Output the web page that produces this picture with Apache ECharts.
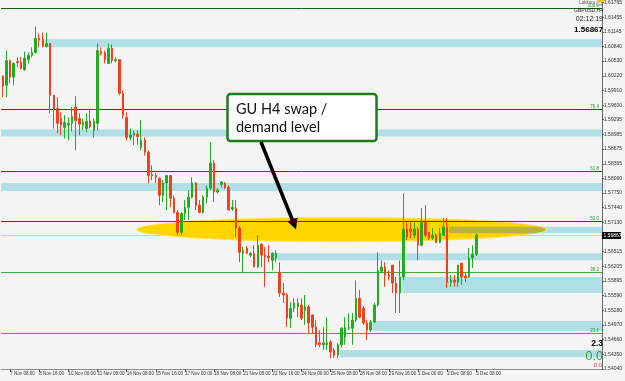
<!DOCTYPE html>
<html><head><meta charset="utf-8">
<script src="https://cdn.jsdelivr.net/npm/echarts@6/dist/echarts.min.js"></script>
<style>html,body{margin:0;padding:0;background:#f4f4f4;}#c{width:625px;height:381px;}</style>
</head><body><div id="c"></div>
<script>
// ---- data (GBPUSD, H4) ----
const xLabels = ["7 Nov 08:00","8 Nov 16:00","10 Nov 00:00","11 Nov 08:00","14 Nov 08:00","15 Nov 16:00","17 Nov 00:00","18 Nov 08:00","21 Nov 08:00","22 Nov 16:00","24 Nov 00:00","25 Nov 08:00","28 Nov 08:00","29 Nov 16:00","1 Dec 00:00","2 Dec 08:00","5 Dec 08:00"];
const firstLabelBar = 2, barsPerLabel = 8, totalSlots = 165;

const opens = [1.6021,1.6002,1.6054,1.6019,1.6052,1.6050,1.6035,1.6056,1.6065,1.6071,1.6101,1.6099,1.6084,1.6090,1.5981,1.5953,1.5932,1.5913,1.5918,1.5922,1.5956,1.5932,1.5918,1.5911,1.5926,1.5907,1.5922,1.6073,1.6071,1.6048,1.6080,1.6054,1.6056,1.5985,1.5934,1.5892,1.5897,1.5899,1.5871,1.5886,1.5861,1.5814,1.5812,1.5806,1.5770,1.5796,1.5812,1.5764,1.5734,1.5692,1.5732,1.5745,1.5766,1.5796,1.5749,1.5734,1.5766,1.5785,1.5838,1.5777,1.5793,1.5796,1.5787,1.5741,1.5743,1.5701,1.5648,1.5659,1.5644,1.5648,1.5619,1.5667,1.5644,1.5642,1.5633,1.5638,1.5608,1.5564,1.5560,1.5511,1.5532,1.5535,1.5539,1.5528,1.5535,1.5518,1.5492,1.5459,1.5455,1.5455,1.5461,1.5444,1.5433,1.5455,1.5471,1.5490,1.5490,1.5507,1.5553,1.5532,1.5501,1.5486,1.5503,1.5539,1.5610,1.5619,1.5602,1.5623,1.5585,1.5564,1.5598,1.5699,1.5699,1.5686,1.5699,1.5665,1.5713,1.5692,1.5680,1.5686,1.5671,1.5686,1.5703,1.5587,1.5591,1.5587,1.5627,1.5600,1.5598,1.5638,1.5646];
const closes = [1.6000,1.6054,1.6019,1.6048,1.6050,1.6038,1.6059,1.6065,1.6071,1.6101,1.6097,1.6084,1.6090,1.5981,1.5953,1.5922,1.5918,1.5924,1.5922,1.5937,1.5928,1.5920,1.5924,1.5926,1.5915,1.5926,1.6075,1.6069,1.6056,1.6080,1.6054,1.6056,1.5985,1.5939,1.5892,1.5897,1.5901,1.5894,1.5886,1.5861,1.5812,1.5812,1.5808,1.5770,1.5796,1.5812,1.5764,1.5734,1.5692,1.5732,1.5745,1.5766,1.5796,1.5749,1.5734,1.5766,1.5785,1.5838,1.5777,1.5781,1.5798,1.5787,1.5739,1.5745,1.5701,1.5650,1.5654,1.5648,1.5648,1.5619,1.5665,1.5644,1.5640,1.5638,1.5648,1.5648,1.5564,1.5560,1.5511,1.5532,1.5543,1.5543,1.5511,1.5535,1.5501,1.5492,1.5455,1.5455,1.5459,1.5459,1.5440,1.5433,1.5455,1.5490,1.5492,1.5492,1.5507,1.5553,1.5513,1.5501,1.5486,1.5503,1.5539,1.5612,1.5619,1.5602,1.5598,1.5585,1.5564,1.5598,1.5699,1.5682,1.5694,1.5699,1.5665,1.5713,1.5686,1.5680,1.5686,1.5671,1.5690,1.5703,1.5587,1.5591,1.5587,1.5623,1.5598,1.5596,1.5638,1.5646,1.56867];
const lows = [1.5977,1.5977,1.6006,1.6002,1.6040,1.6035,1.6033,1.6048,1.6061,1.6069,1.6082,1.6082,1.6082,1.5943,1.5911,1.5901,1.5897,1.5890,1.5886,1.5905,1.5865,1.5897,1.5907,1.5903,1.5911,1.5892,1.5907,1.6065,1.6048,1.6048,1.6048,1.6050,1.5981,1.5932,1.5886,1.5886,1.5876,1.5876,1.5865,1.5854,1.5796,1.5802,1.5796,1.5749,1.5756,1.5739,1.5745,1.5732,1.5686,1.5686,1.5718,1.5718,1.5764,1.5739,1.5732,1.5732,1.5753,1.5781,1.5756,1.5774,1.5787,1.5783,1.5739,1.5737,1.5682,1.5629,1.5608,1.5646,1.5640,1.5619,1.5617,1.5619,1.5577,1.5629,1.5612,1.5629,1.5556,1.5543,1.5492,1.5490,1.5524,1.5513,1.5507,1.5497,1.5480,1.5480,1.5450,1.5450,1.5444,1.5444,1.5427,1.5427,1.5427,1.5450,1.5455,1.5486,1.5455,1.5503,1.5511,1.5497,1.5465,1.5482,1.5501,1.5535,1.5606,1.5577,1.5591,1.5564,1.5522,1.5522,1.5591,1.5676,1.5680,1.5680,1.5633,1.5663,1.5682,1.5676,1.5676,1.5669,1.5669,1.5684,1.5575,1.5577,1.5577,1.5577,1.5581,1.5587,1.5596,1.5617,1.5642];
const highs = [1.6023,1.6075,1.6056,1.6050,1.6061,1.6061,1.6073,1.6071,1.6082,1.6126,1.6111,1.6113,1.6113,1.6090,1.5981,1.5977,1.5945,1.5939,1.5934,1.5956,1.5979,1.5943,1.5932,1.5943,1.5949,1.5932,1.6090,1.6082,1.6075,1.6090,1.6088,1.6061,1.6056,1.5991,1.5945,1.5911,1.5907,1.5907,1.5928,1.5892,1.5865,1.5833,1.5817,1.5808,1.5802,1.5812,1.5812,1.5770,1.5739,1.5734,1.5760,1.5781,1.5808,1.5798,1.5760,1.5770,1.5791,1.5882,1.5844,1.5785,1.5800,1.5798,1.5791,1.5760,1.5760,1.5705,1.5661,1.5663,1.5650,1.5665,1.5686,1.5669,1.5661,1.5665,1.5650,1.5654,1.5629,1.5585,1.5564,1.5545,1.5553,1.5553,1.5553,1.5560,1.5539,1.5518,1.5507,1.5486,1.5492,1.5513,1.5465,1.5448,1.5459,1.5492,1.5513,1.5522,1.5522,1.5591,1.5570,1.5537,1.5507,1.5507,1.5543,1.5650,1.5633,1.5629,1.5612,1.5623,1.5598,1.5633,1.5774,1.5713,1.5713,1.5713,1.5703,1.5743,1.5749,1.5692,1.5701,1.5690,1.5701,1.5722,1.5722,1.5602,1.5602,1.5623,1.5627,1.5608,1.5659,1.5665,1.5690];

const yTicks = [1.54040,1.54350,1.54660,1.54970,1.55280,1.55590,1.55895,1.56205,1.56515,1.57130,1.57440,1.57750,1.58060,1.58365,1.58675,1.58985,1.59295,1.59600,1.59910,1.60220,1.60530,1.60840,1.61145,1.61455,1.61765];
const yMin = 1.54040, yMax = 1.61807;

const fibLevels = [1.6164,1.5951,1.5821,1.5716,1.5609,1.5480];
const fibNames = ["100.0","76.4","61.8","50.0","38.2","23.6"];

// zones: [first bar slot, upper price, lower price]
const zones = [[12,1.6099,1.6082],[0,1.5909,1.5894],[0,1.5796,1.5779],[75,1.5648,1.5633],[110,1.5598,1.5564],[102,1.5505,1.5484],[93,1.5444,1.5429]];
const swapZone = [[123,1.5704,1.5690]];
// highlight ellipse: [centre slot, centre price, half width (slots), half height (price)]
const swapEllipse = [[93,1.5698,56,0.0024]];
const currentPrice = 1.56867;

// ---- chart ----
const slots = Array.from({length: totalSlots}, (_, i) => String(i));
const candleData = opens.map((o, i) => [o, closes[i], lows[i], highs[i]]);
const isLabelBar = (i) => i >= firstLabelBar && (i - firstLabelBar) % barsPerLabel === 0 && (i - firstLabelBar) / barsPerLabel < xLabels.length;

const chart = echarts.init(document.getElementById('c'), null, {renderer: 'canvas'});
const FONT = 'Liberation Sans';
const crisp = (y) => Math.round(y) + 0.5;

function ellipseGeom(api) {
  const e = swapEllipse[0];
  const c = api.coord([e[0], e[1]]);
  const bw = api.size([1, 0])[0];
  return {cx: c[0], cy: c[1], rx: bw * e[2], ry: api.size([1, e[3] * 2])[1] / 2};
}

chart.setOption({
  animation: false,
  backgroundColor: '#f4f4f4',
  grid: {left: 1, right: 18, top: 0, bottom: 12, containLabel: false},
  xAxis: {
    type: 'category', data: slots, boundaryGap: true,
    axisLine: {show: true, lineStyle: {color: '#8c8c8c', width: 1}},
    axisTick: {show: true, alignWithLabel: true, length: 3, interval: (i) => isLabelBar(i), lineStyle: {color: '#555'}},
    axisLabel: {
      interval: (i) => isLabelBar(i),
      formatter: (v, i) => xLabels[(i - firstLabelBar) / barsPerLabel],
      align: 'left', fontSize: 4.6, color: '#333', margin: 2, fontFamily: FONT
    },
    splitLine: {show: false}
  },
  yAxis: {
    type: 'value', position: 'right', min: yMin, max: yMax, scale: true,
    axisLine: {show: true, lineStyle: {color: '#6a6a6a'}},
    axisTick: {show: true, length: 2, customValues: yTicks, lineStyle: {color: '#555'}},
    axisLabel: {customValues: yTicks, formatter: (v) => v.toFixed(5), fontSize: 5, color: '#333', margin: 2, fontFamily: FONT},
    splitLine: {show: false}
  },
  series: [
    {
      name: 'zones', type: 'custom', z: 1, silent: true,
      data: zones.concat(swapZone), encode: {x: 0, y: [1, 2]},
      renderItem: (params, api) => {
        const bw = api.size([1, 0])[0];
        const a = api.coord([api.value(0), api.value(1)]);
        const b = api.coord([api.value(0), api.value(2)]);
        const cs = params.coordSys;
        const x0 = Math.max(cs.x, a[0] - bw / 2);
        return {type: 'rect', shape: {x: x0, y: a[1], width: cs.x + cs.width - x0, height: b[1] - a[1]}, style: {fill: '#b0e0e6'}};
      }
    },
    {
      name: 'current price', type: 'custom', z: 1, silent: true, clip: false,
      data: [[0, currentPrice]], encode: {x: 0, y: 1},
      renderItem: (params, api) => {
        const cs = params.coordSys;
        const y = crisp(api.coord([0, api.value(1)])[1]);
        const xr = cs.x + cs.width;
        return {type: 'group', children: [
          {type: 'line', shape: {x1: cs.x, y1: y, x2: xr, y2: y}, style: {stroke: '#f6c98c', lineWidth: 1}},
          {type: 'rect', shape: {x: xr, y: y - 3.5, width: 19, height: 7}, style: {fill: '#000'}},
          {type: 'text', x: xr + 1.5, y: y, style: {text: api.value(1).toFixed(5), font: '5px ' + FONT, fill: '#fff', verticalAlign: 'middle'}}
        ]};
      }
    },
    {
      name: 'highlight', type: 'custom', z: 2, silent: true,
      data: swapEllipse, encode: {x: 0, y: 1},
      renderItem: (params, api) => {
        const g = ellipseGeom(api);
        return {type: 'group', children: [
          {type: 'circle', shape: {cx: 0, cy: 0, r: 1}, x: g.cx, y: g.cy, scaleX: g.rx + 1.5, scaleY: g.ry + 1.2, style: {fill: '#ffe14a'}},
          {type: 'circle', shape: {cx: 0, cy: 0, r: 1}, x: g.cx, y: g.cy, scaleX: g.rx, scaleY: g.ry, style: {fill: '#ffd500'}}
        ]};
      }
    },
    {
      // part of the swap zone that lies inside the highlight ellipse
      name: 'swap zone', type: 'custom', z: 3, silent: true,
      data: swapZone, encode: {x: 0, y: [1, 2]},
      renderItem: (params, api) => {
        const bw = api.size([1, 0])[0];
        const a = api.coord([api.value(0), api.value(1)]);
        const b = api.coord([api.value(0), api.value(2)]);
        const x0 = a[0] - bw / 2;
        const g = ellipseGeom(api);
        const pts = [[x0, a[1]]];
        const n = 16;
        for (let k = 0; k <= n; k++) {
          const y = a[1] + (b[1] - a[1]) * k / n;
          const dy = (y - g.cy) / g.ry;
          pts.push([g.cx + g.rx * Math.sqrt(Math.max(0, 1 - dy * dy)), y]);
        }
        pts.push([x0, b[1]]);
        return {type: 'polygon', shape: {points: pts}, style: {fill: '#b9b23c'}};
      }
    },
    {
      name: 'fibonacci', type: 'custom', z: 4, silent: true,
      data: fibLevels.map((v, i) => [0, v, i]), encode: {x: 0, y: 1},
      renderItem: (params, api) => {
        const cs = params.coordSys;
        const y = crisp(api.coord([0, api.value(1)])[1]);
        const i = api.value(2);
        return {type: 'group', children: [
          {type: 'line', shape: {x1: cs.x, y1: y, x2: cs.x + cs.width, y2: y}, style: {stroke: i < 4 ? '#0d650d' : '#43a943', lineWidth: 1}},
          {type: 'text', x: cs.x + cs.width - 3, y: y - 0.5, style: {text: fibNames[i], font: '4.5px ' + FONT, fill: '#2f8f2f', align: 'right', verticalAlign: 'bottom'}}
        ]};
      }
    },
    {
      name: 'GBPUSD,H4', type: 'candlestick', z: 10,
      data: candleData, barWidth: 2,
      itemStyle: {color: '#1fae1f', color0: '#f2401d', borderColor: '#1fae1f', borderColor0: '#f2401d', borderWidth: 1}
    }
  ],
  graphic: [
    {type: 'rect', z: 100, shape: {x: 227.5, y: 94, width: 149, height: 47, r: 3}, style: {fill: '#ffffff', stroke: '#1f7a1f', lineWidth: 2.5}},
    {type: 'text', z: 101, x: 236, y: 100, style: {text: 'GU H4 swap /\ndemand level', font: '14.5px Lato', fill: '#111', lineHeight: 18}},
    {type: 'line', z: 100, shape: {x1: 261, y1: 142, x2: 292.6, y2: 220.5}, style: {stroke: '#000', lineWidth: 3.5}},
    {type: 'polygon', z: 100, shape: {points: [[296, 229.5], [287.5, 221.5], [297.5, 217.5]]}, style: {fill: '#000'}},
    {type: 'text', z: 100, x: 595, y: 3, style: {text: 'Lukkom', font: '4.5px ' + FONT, fill: '#555', align: 'right', verticalAlign: 'middle'}},
    {type: 'rect', z: 100, shape: {x: 597, y: 1, width: 5, height: 4}, style: {fill: '#ddd', stroke: '#777', lineWidth: 0.6}},
    {type: 'circle', z: 100, shape: {cx: 601, cy: -1, r: 3.5}, style: {fill: '#f5c400'}},
    {type: 'text', z: 100, x: 603, y: 11, style: {text: 'GBPUSD,H4', font: '5px ' + FONT, fill: '#222', align: 'right', verticalAlign: 'middle'}},
    {type: 'text', z: 100, x: 603, y: 19, style: {text: '02:12:19', font: '7px ' + FONT, fill: '#222', align: 'right', verticalAlign: 'middle'}},
    {type: 'text', z: 100, x: 603, y: 29.5, style: {text: '1.56867', font: 'bold 8px ' + FONT, fill: '#000', align: 'right', verticalAlign: 'middle'}},
    {type: 'text', z: 100, x: 603, y: 344, style: {text: '2.3', font: 'bold 8.5px ' + FONT, fill: '#000', align: 'right', verticalAlign: 'middle'}},
    {type: 'text', z: 100, x: 603, y: 356.5, style: {text: '0.0', font: '12.5px ' + FONT, fill: '#2aa02a', align: 'right', verticalAlign: 'middle'}},
    {type: 'text', z: 100, x: 602, y: 365.5, style: {text: '0.0', font: '6px ' + FONT, fill: '#d9405f', align: 'right', verticalAlign: 'middle'}}
  ]
});
</script></body></html>
